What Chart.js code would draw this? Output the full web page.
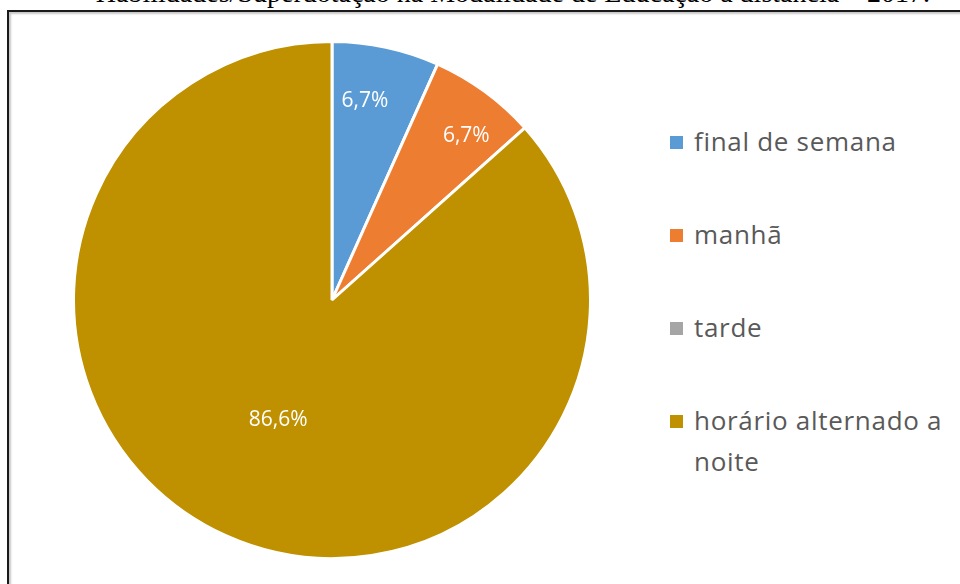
<!DOCTYPE html>
<html>
<head>
<meta charset="utf-8">
<script src="https://cdn.jsdelivr.net/npm/chart.js@4.4.1/dist/chart.umd.min.js"></script>
<style>
  html, body { margin: 0; padding: 0; background: #fff; width: 960px; height: 584px; overflow: hidden; }
  #title {
    position: absolute; left: 33px; width: 960px; top: -22px; text-align: center;
    font-family: "Liberation Serif", serif; font-size: 28px; line-height: 30px; color: #000;
    white-space: nowrap;
  }
  #frame {
    position: absolute; left: 7px; top: 10px; width: 1000px; height: 700px;
    border-left: 2px solid #1a1a1a; border-top: 2px solid #1a1a1a;
    box-shadow: inset 2px 2px 2px #c8c8c8;
  }
  #pie { position: absolute; left: 72px; top: 40px; width: 520px; height: 520px; }
  #legend {
    position: absolute; left: 670px; top: 121px; width: 290px;
    font-family: "Open Sans", "Noto Sans", sans-serif; font-size: 26px; letter-spacing: 0.7px; color: #595959;
  }
  .item { position: relative; padding-left: 24px; line-height: 41px; margin-bottom: 52px; }
  .box { position: absolute; left: 0; top: 15px; width: 13px; height: 13px; }
</style>
</head>
<body>
<div id="title">Habilidades/Superdotação na Modalidade de Educação a distância – 2017.</div>
<div id="frame"></div>
<div id="pie"><canvas id="c"></canvas></div>
<div id="legend"></div>
<script>
// Dados do gráfico
const categories = ['final de semana', 'manhã', 'tarde', 'horário alternado a noite'];
const values = [6.7, 6.7, 0, 86.6];
const valueLabels = ['6,7%', '6,7%', '', '86,6%'];
const colors = ['#5B9BD5', '#ED7D31', '#A5A5A5', '#BF9000'];

// posição dos rótulos: fração do ângulo da fatia e fração do raio
const labelAngle = [0.39, 0.63, 0.5, 0.5];
const labelRadius = [0.78, 0.82, 0.6, 0.51];

// Rótulos de dados dentro das fatias
const sliceLabels = {
  id: 'sliceLabels',
  afterDatasetsDraw(chart) {
    const ctx = chart.ctx;
    const meta = chart.getDatasetMeta(0);
    ctx.save();
    ctx.font = '21px "Open Sans", "Noto Sans", sans-serif';
    ctx.fillStyle = '#ffffff';
    ctx.textAlign = 'center';
    ctx.textBaseline = 'middle';
    meta.data.forEach((arc, i) => {
      if (!valueLabels[i]) return;
      const p = arc.getProps(['x', 'y', 'startAngle', 'endAngle', 'outerRadius'], true);
      const a = p.startAngle + (p.endAngle - p.startAngle) * labelAngle[i];
      const r = p.outerRadius * labelRadius[i];
      ctx.fillText(valueLabels[i], p.x + Math.cos(a) * r, p.y + Math.sin(a) * r);
    });
    ctx.restore();
  }
};

const chart = new Chart(document.getElementById('c'), {
  type: 'pie',
  data: {
    labels: categories,
    datasets: [{
      data: values,
      backgroundColor: colors,
      borderColor: '#ffffff',
      borderWidth: 3
    }]
  },
  options: {
    responsive: true,
    maintainAspectRatio: false,
    animation: false,
    layout: { padding: 0 },
    plugins: {
      legend: { display: false },
      tooltip: { enabled: false }
    }
  },
  plugins: [sliceLabels]
});

// Legenda à direita
const legend = document.getElementById('legend');
categories.forEach((name, i) => {
  const item = document.createElement('div');
  item.className = 'item';
  item.innerHTML = '<span class="box" style="background:' + colors[i] + '"></span>' + name;
  legend.appendChild(item);
});
</script>
</body>
</html>
